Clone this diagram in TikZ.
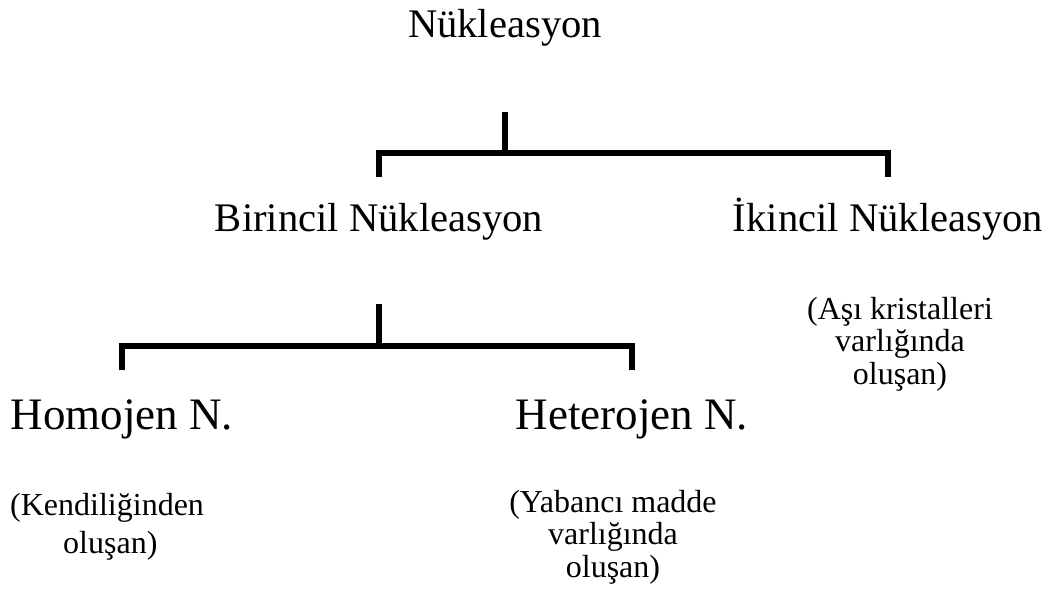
\documentclass[tikz,border=0pt]{standalone}
\usepackage{fontspec}
\setmainfont{Liberation Serif}
\begin{document}
\begin{tikzpicture}[x=1pt,y=-1pt,
  big/.style={inner sep=0pt,anchor=base,font=\fontsize{40.6}{44}\selectfont},
  mid/.style={inner sep=0pt,anchor=base,font=\fontsize{45}{50}\selectfont},
  note/.style={inner sep=0pt,anchor=base,align=center,font=\fontsize{32}{32.5}\selectfont},
  brk/.style={line width=6pt,line cap=butt,line join=miter}]
\useasboundingbox (0,0) rectangle (1063,596);

% level 0
\node[big] (top) at (505,38) {Nükleasyon};
% level 1 (multi-line notes are placed by the baseline of their last line)
\node[big] (bir) at (379,232) {Birincil Nükleasyon};
\node[big] (iki) at (888,232) {İkincil Nükleasyon};
\node[note] (asi) at (900,384) {(Aşı kristalleri\\varlığında\\oluşan)};
% level 2
\node[mid] (hom) at (122,429) {Homojen N.};
\node[mid] (het) at (632,429) {Heterojen N.};
\node[note,align=left,anchor=base west,font=\fontsize{32}{38}\selectfont] (ken) at (10,553)
  {(Kendiliğinden\\\hspace*{53pt}oluşan)};
\node[note] (yab) at (613,577) {(Yabancı madde\\varlığında\\oluşan)};

% bracket under the root
\draw[brk] (top.base |- 0,112) -- (top.base |- 0,153);
\draw[brk] (bir.base |- 0,177) -- (bir.base |- 0,153) -- (iki.base |- 0,153) -- (iki.base |- 0,177);

% bracket under primary nucleation
\draw[brk] (bir.base |- 0,304) -- (bir.base |- 0,345.5);
\draw[brk] (hom.base |- 0,369.5) -- (hom.base |- 0,345.5) -- (het.base |- 0,345.5) -- (het.base |- 0,369.5);
\end{tikzpicture}
\end{document}
